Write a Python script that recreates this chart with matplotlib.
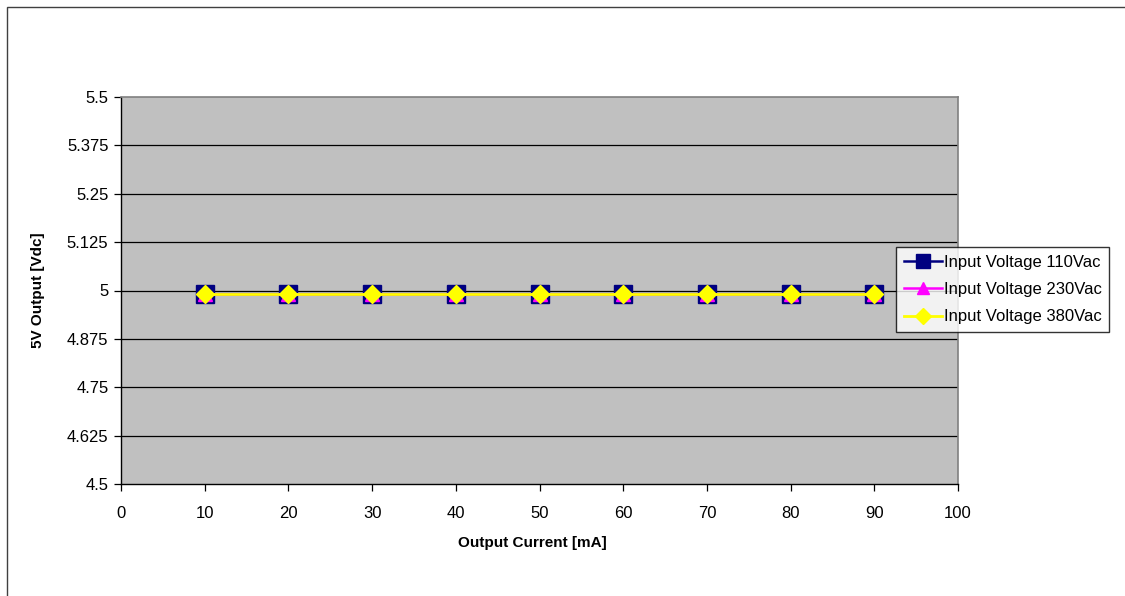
import matplotlib
matplotlib.use("Agg")
import matplotlib.pyplot as plt
from matplotlib.patches import Rectangle

plt.rcParams['font.family'] = ['Liberation Sans', 'DejaVu Sans']

# Load regulation data: 5V rail at three input voltages
output_current_ma = [10, 20, 30, 40, 50, 60, 70, 80, 90]
v_out_110vac = [4.99, 4.99, 4.99, 4.99, 4.99, 4.99, 4.99, 4.99, 4.99]
v_out_230vac = [4.99, 4.99, 4.99, 4.99, 4.99, 4.99, 4.99, 4.99, 4.99]
v_out_380vac = [4.99, 4.99, 4.99, 4.99, 4.99, 4.99, 4.99, 4.99, 4.99]
series_labels = ["Input Voltage 110Vac", "Input Voltage 230Vac", "Input Voltage 380Vac"]

y_ticks = [4.5, 4.625, 4.75, 4.875, 5.0, 5.125, 5.25, 5.375, 5.5]
y_tick_labels = ["4.5", "4.625", "4.75", "4.875", "5", "5.125", "5.25", "5.375", "5.5"]
x_ticks = [0, 10, 20, 30, 40, 50, 60, 70, 80, 90, 100]

W, H = 1125, 596
fig = plt.figure(figsize=(W / 100, H / 100), dpi=100)

# Outer chart frame (only the left and top edges fall inside the canvas)
fig.patches.append(Rectangle((7 / W, -0.1), 1.2, 1 - 7 / H + 0.1,
                             transform=fig.transFigure, fill=False,
                             edgecolor='#404040', linewidth=1.0, zorder=0))

ax = fig.add_axes([121 / W, 1 - 484 / H, (958 - 121) / W, (484 - 97) / H])
ax.set_facecolor('#C0C0C0')
ax.set_xlim(0, 100)
ax.set_ylim(4.5, 5.5)

for yv in y_ticks[1:-1]:
    ax.axhline(yv, color='black', linewidth=0.9, zorder=1)

ax.plot(output_current_ma, v_out_110vac, color='#000080', linewidth=1.8,
        marker='s', markersize=12.5, markerfacecolor='#000080',
        markeredgecolor='#000080', label=series_labels[0], zorder=3)
ax.plot(output_current_ma, v_out_230vac, color='#FF00FF', linewidth=1.8,
        marker='^', markersize=10, markerfacecolor='#FF00FF',
        markeredgecolor='#FF00FF', label=series_labels[1], zorder=4)
ax.plot(output_current_ma, v_out_380vac, color='#FFFF00', linewidth=2.0,
        marker='D', markersize=9, markerfacecolor='#FFFF00',
        markeredgecolor='#FFFF00', label=series_labels[2], zorder=5)

ax.set_yticks(y_ticks)
ax.set_yticklabels(y_tick_labels)
ax.set_xticks(x_ticks)
ax.tick_params(axis='both', direction='out', length=5, width=0.9,
               labelsize=12, colors='black')
ax.tick_params(axis='x', pad=11)
ax.tick_params(axis='y', pad=4)

for side in ('left', 'bottom'):
    ax.spines[side].set_color('black')
    ax.spines[side].set_linewidth(1.0)
for side in ('top', 'right'):
    ax.spines[side].set_color('#808080')
    ax.spines[side].set_linewidth(1.2)

ax.set_xlabel("Output Current [mA]", fontsize=11, fontweight='bold', labelpad=11)
ax.xaxis.set_label_coords((532 - 121) / (958 - 121), -0.135)
ax.set_ylabel("5V Output [Vdc]", fontsize=11, fontweight='bold', labelpad=16)

leg = fig.legend(loc='upper left', bbox_to_anchor=(896 / W, 1 - 247 / H),
                 fontsize=12, frameon=True, fancybox=False, shadow=False,
                 handlelength=2.3, handletextpad=0.1, borderpad=0.45,
                 labelspacing=0.75, borderaxespad=0, markerscale=0.85)
leg.get_frame().set_edgecolor('black')
leg.get_frame().set_linewidth(1.0)
leg.get_frame().set_facecolor('white')

fig.savefig("out.png", dpi=100, facecolor='white')
